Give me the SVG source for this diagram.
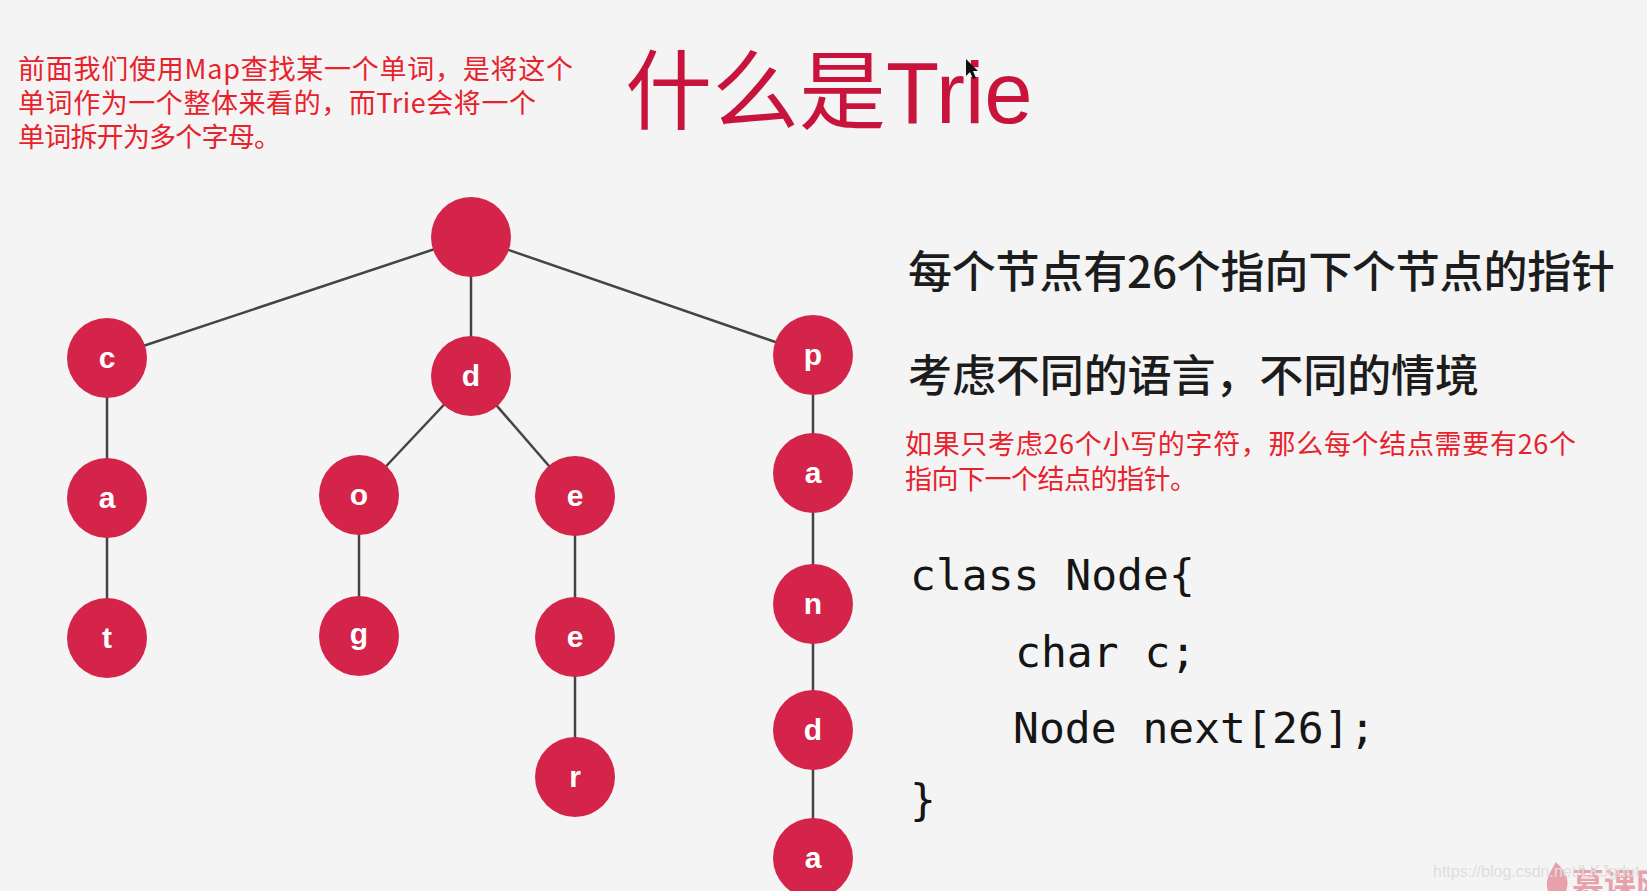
<svg xmlns="http://www.w3.org/2000/svg" width="1647" height="891" viewBox="0 0 1647 891">
<style>
.node circle{fill:#d4244a;}
.node text{font-family:"Liberation Sans",Arial,sans-serif;font-weight:bold;font-size:30px;fill:#ffffff;text-anchor:middle;}
.edge{stroke:#444444;stroke-width:2.5;fill:none;}
.note{font-family:"Noto Sans CJK SC","Microsoft YaHei",sans-serif;font-size:27px;fill:#e8222c;}
.big{font-family:"Noto Sans CJK SC",sans-serif;font-size:44px;fill:#1c1c1c;font-weight:500;}
.code{font-family:"DejaVu Sans Mono","Liberation Mono",monospace;font-size:43px;fill:#151515;}
</style>
<rect width="1647" height="891" fill="#f4f4f4"/>

<g id="notes">
<text class="note" x="18" y="79" textLength="555" lengthAdjust="spacing">前面我们使用Map查找某一个单词，是将这个</text>
<text class="note" x="18" y="113" textLength="518" lengthAdjust="spacing">单词作为一个整体来看的，而Trie会将一个</text>
<text class="note" x="18" y="147" textLength="263" lengthAdjust="spacing">单词拆开为多个字母。</text>
</g>

<g id="title">
<text x="625" y="123" font-family="'Liberation Sans','Noto Sans CJK SC',sans-serif" font-size="87" fill="#c8143c">什么是Trie</text>
<path d="M966,59 L966,76 L970,72 L973,79 L976,78 L973,71 L978,71 Z" fill="#111111"/>
</g>

<g id="connectors">
<line class="edge" x1="471" y1="237" x2="107" y2="358"/>
<line class="edge" x1="471" y1="237" x2="471" y2="376"/>
<line class="edge" x1="471" y1="237" x2="813" y2="355"/>
<line class="edge" x1="107" y1="358" x2="107" y2="498"/>
<line class="edge" x1="107" y1="498" x2="107" y2="638"/>
<line class="edge" x1="471" y1="376" x2="359" y2="495"/>
<line class="edge" x1="471" y1="376" x2="575" y2="496"/>
<line class="edge" x1="359" y1="495" x2="359" y2="636"/>
<line class="edge" x1="575" y1="496" x2="575" y2="637"/>
<line class="edge" x1="575" y1="637" x2="575" y2="777"/>
<line class="edge" x1="813" y1="355" x2="813" y2="473"/>
<line class="edge" x1="813" y1="473" x2="813" y2="604"/>
<line class="edge" x1="813" y1="604" x2="813" y2="730"/>
<line class="edge" x1="813" y1="730" x2="813" y2="858"/>
</g>

<g id="n-root" class="node"><circle cx="471" cy="237" r="40"/></g>
<g id="n-c" class="node"><circle cx="107" cy="358" r="40"/><text x="107" y="368">c</text></g>
<g id="n-ca" class="node"><circle cx="107" cy="498" r="40"/><text x="107" y="508">a</text></g>
<g id="n-cat" class="node"><circle cx="107" cy="638" r="40"/><text x="107" y="648">t</text></g>
<g id="n-d" class="node"><circle cx="471" cy="376" r="40"/><text x="471" y="386">d</text></g>
<g id="n-do" class="node"><circle cx="359" cy="495" r="40"/><text x="359" y="505">o</text></g>
<g id="n-dog" class="node"><circle cx="359" cy="636" r="40"/><text x="359" y="644">g</text></g>
<g id="n-de" class="node"><circle cx="575" cy="496" r="40"/><text x="575" y="506">e</text></g>
<g id="n-dee" class="node"><circle cx="575" cy="637" r="40"/><text x="575" y="647">e</text></g>
<g id="n-deer" class="node"><circle cx="575" cy="777" r="40"/><text x="575" y="787">r</text></g>
<g id="n-p" class="node"><circle cx="813" cy="355" r="40"/><text x="813" y="365">p</text></g>
<g id="n-pa" class="node"><circle cx="813" cy="473" r="40"/><text x="813" y="483">a</text></g>
<g id="n-pan" class="node"><circle cx="813" cy="604" r="40"/><text x="813" y="614">n</text></g>
<g id="n-pand" class="node"><circle cx="813" cy="730" r="40"/><text x="813" y="740">d</text></g>
<g id="n-panda" class="node"><circle cx="813" cy="858" r="40"/><text x="813" y="868">a</text></g>

<g id="desc">
<text class="big" x="908" y="288" textLength="707" lengthAdjust="spacing">每个节点有26个指向下个节点的指针</text>
<text class="big" x="908" y="392" textLength="571" lengthAdjust="spacing">考虑不同的语言，不同的情境</text>
<text class="note" x="905" y="454" textLength="671" lengthAdjust="spacing">如果只考虑26个小写的字符，那么每个结点需要有26个</text>
<text class="note" x="905" y="489" textLength="292" lengthAdjust="spacing">指向下一个结点的指针。</text>
</g>

<g id="code">
<text class="code" x="910" y="590">class Node{</text>
<text class="code" x="1015" y="667">char c;</text>
<text class="code" x="1013" y="743">Node next[26];</text>
<text class="code" x="910" y="815">}</text>
</g>

<g id="watermark">
<path d="M1556,862 C1566,872 1570,880 1566,891 L1548,891 C1544,882 1550,872 1556,862 Z" fill="#e8a0aa"/>
<text x="1572" y="896" font-family="'Noto Sans CJK SC',sans-serif" font-weight="bold" font-size="32" fill="#e8a0aa">慕课网</text>
<text x="1433" y="877" font-family="'Liberation Sans',Arial,sans-serif" font-size="16" fill="#dedede">https://blog.csdn.net/LKJgdut</text>
</g>
</svg>
